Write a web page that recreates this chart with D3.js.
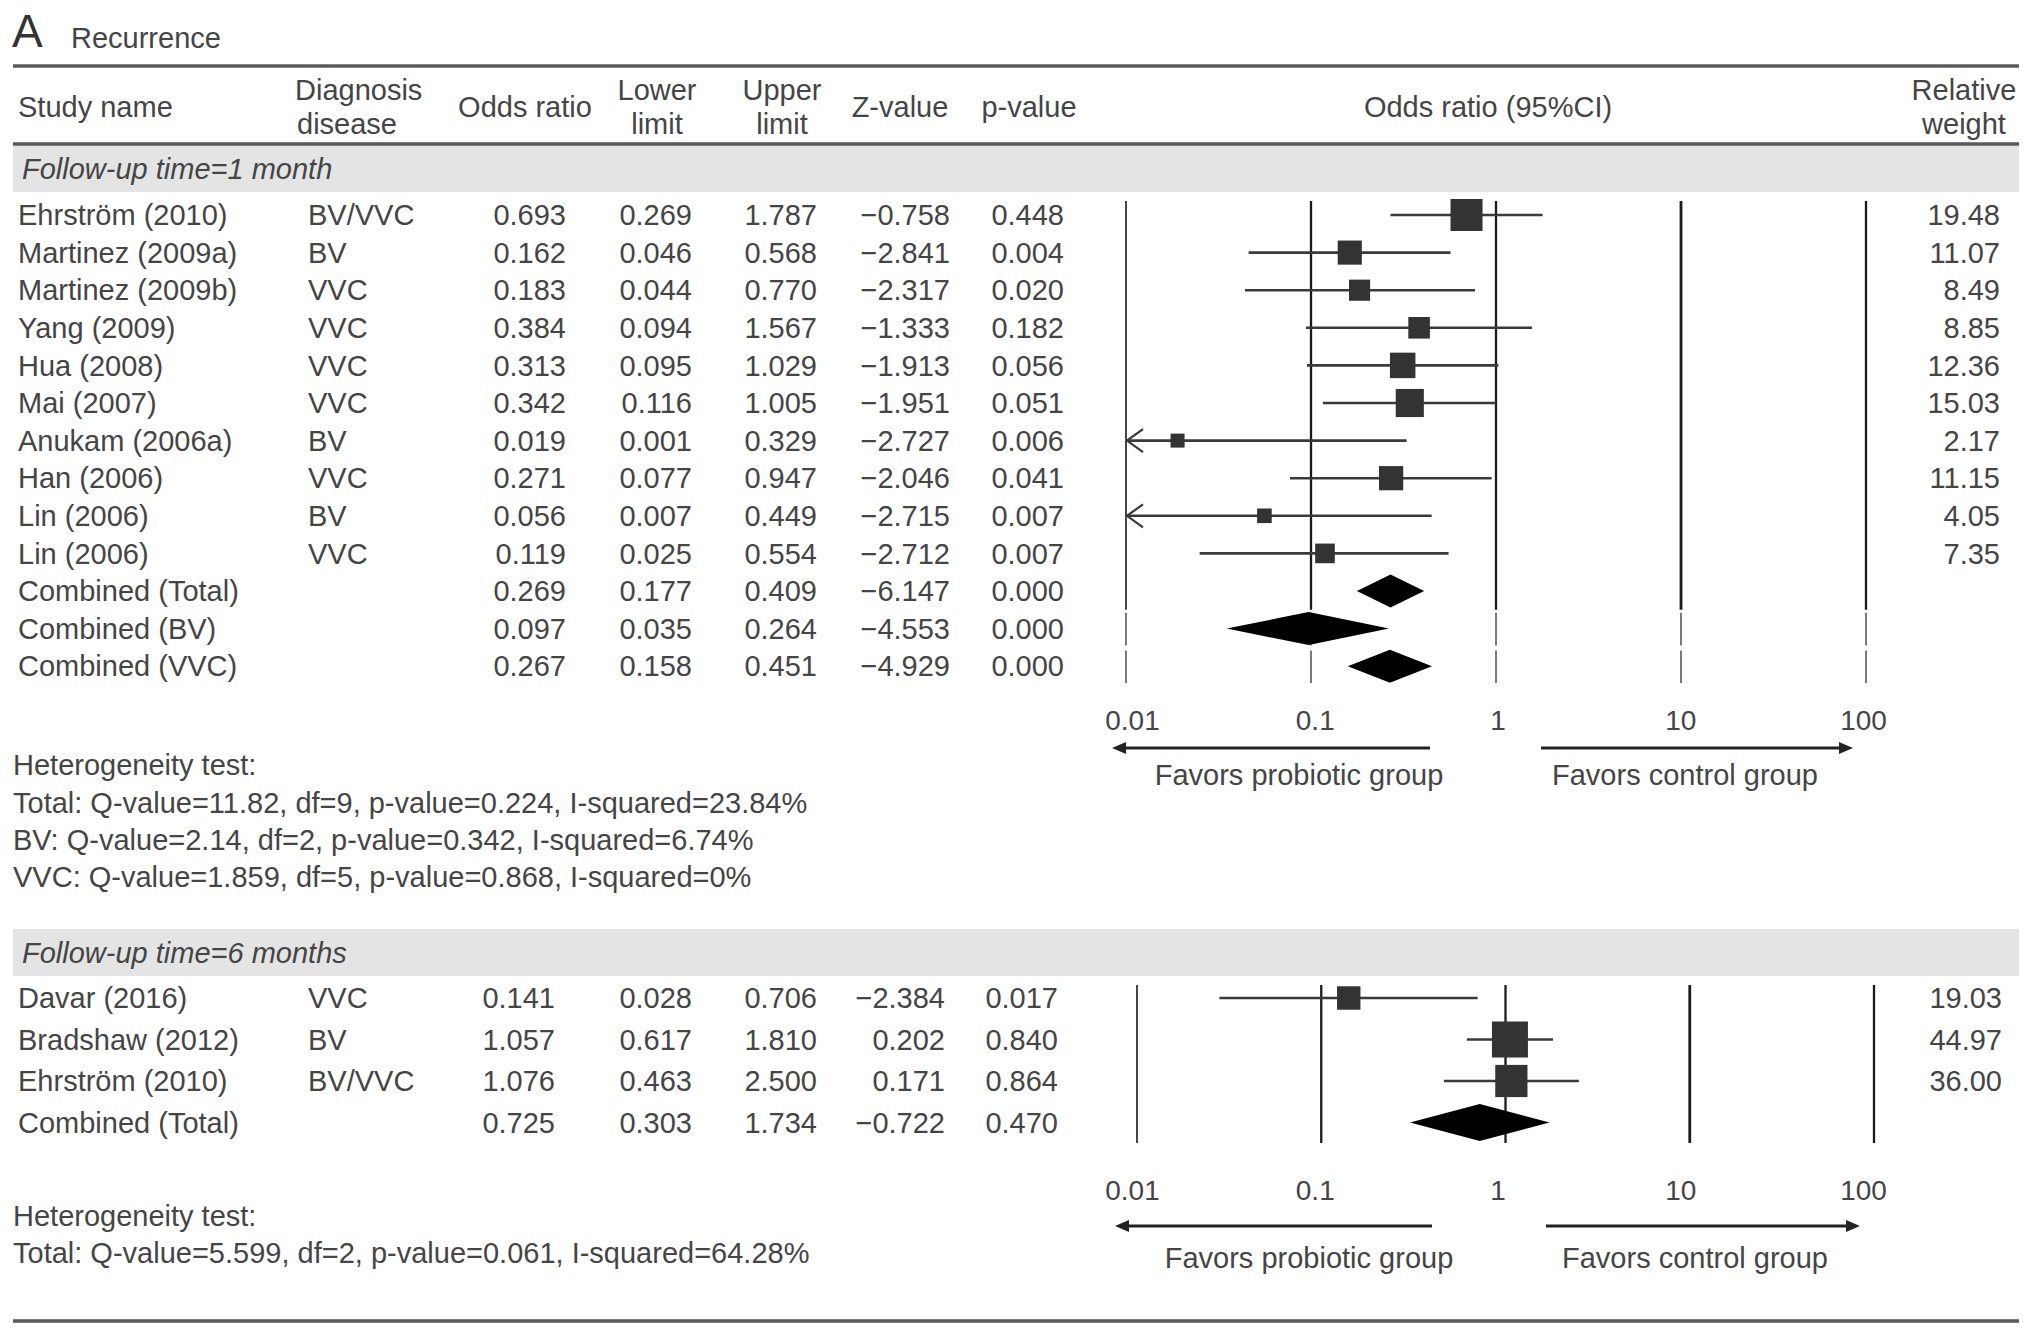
<!DOCTYPE html>
<html>
<head>
<meta charset="utf-8">
<script src="https://cdn.jsdelivr.net/npm/d3@7"></script>
<style>
  html, body { margin: 0; padding: 0; background: #fff; }
  svg text { font-family: "Liberation Sans", Arial, sans-serif; fill: #454545; }
</style>
</head>
<body>
<svg id="chart" width="2032" height="1334"></svg>
<script>
// forest plot, recurrence, two follow-up times

// ---- data: follow-up time = 1 month
const names1 = ["Ehrström (2010)", "Martinez (2009a)", "Martinez (2009b)", "Yang (2009)", "Hua (2008)",
  "Mai (2007)", "Anukam (2006a)", "Han (2006)", "Lin (2006)", "Lin (2006)",
  "Combined (Total)", "Combined (BV)", "Combined (VVC)"]
const diagnosis1 = ["BV/VVC", "BV", "VVC", "VVC", "VVC", "VVC", "BV", "VVC", "BV", "VVC", "", "", ""]
const oddsRatio1 = [0.693, 0.162, 0.183, 0.384, 0.313, 0.342, 0.019, 0.271, 0.056, 0.119, 0.269, 0.097, 0.267]
const lower1 = [0.269, 0.046, 0.044, 0.094, 0.095, 0.116, 0.001, 0.077, 0.007, 0.025, 0.177, 0.035, 0.158]
const upper1 = [1.787, 0.568, 0.770, 1.567, 1.029, 1.005, 0.329, 0.947, 0.449, 0.554, 0.409, 0.264, 0.451]
const zValue1 = [-0.758, -2.841, -2.317, -1.333, -1.913, -1.951, -2.727, -2.046, -2.715, -2.712, -6.147, -4.553, -4.929]
const pValue1 = [0.448, 0.004, 0.020, 0.182, 0.056, 0.051, 0.006, 0.041, 0.007, 0.007, 0.000, 0.000, 0.000]
const weight1 = [19.48, 11.07, 8.49, 8.85, 12.36, 15.03, 2.17, 11.15, 4.05, 7.35, null, null, null]
const hetero1 = ["Heterogeneity test:",
  "Total: Q-value=11.82, df=9, p-value=0.224, I-squared=23.84%",
  "BV: Q-value=2.14, df=2, p-value=0.342, I-squared=6.74%",
  "VVC: Q-value=1.859, df=5, p-value=0.868, I-squared=0%"]

// ---- data: follow-up time = 6 months
const names2 = ["Davar (2016)", "Bradshaw (2012)", "Ehrström (2010)", "Combined (Total)"]
const diagnosis2 = ["VVC", "BV", "BV/VVC", ""]
const oddsRatio2 = [0.141, 1.057, 1.076, 0.725]
const lower2 = [0.028, 0.617, 0.463, 0.303]
const upper2 = [0.706, 1.810, 2.500, 1.734]
const zValue2 = [-2.384, 0.202, 0.171, -0.722]
const pValue2 = [0.017, 0.840, 0.864, 0.470]
const weight2 = [19.03, 44.97, 36.00, null]
const hetero2 = ["Heterogeneity test:",
  "Total: Q-value=5.599, df=2, p-value=0.061, I-squared=64.28%"]

const tickValues = [0.01, 0.1, 1, 10, 100]
const tickLabels = ["0.01", "0.1", "1", "10", "100"]

const svg = d3.select('#chart')
const FS = 29

// title
svg.append('text').attr('x', 12).attr('y', 47).style('font-size', '46px').style('fill', '#333').text('A')
svg.append('text').attr('x', 71).attr('y', 48).style('font-size', FS + 'px').text('Recurrence')

// rules
function rule(y) {
  svg.append('line').attr('x1', 13).attr('x2', 2019).attr('y1', y).attr('y2', y)
    .attr('stroke', '#5a5a5a').attr('stroke-width', 3.5)
}
rule(66)
rule(144)
rule(1321)

// header
function txt(x, y, s, anchor, size, italic) {
  return svg.append('text').attr('x', x).attr('y', y).attr('dy', '0.35em')
    .attr('text-anchor', anchor || 'start')
    .style('font-size', (size || FS) + 'px')
    .style('font-style', italic ? 'italic' : 'normal')
    .text(s)
}
txt(18, 107, 'Study name')
txt(295, 90, 'Diagnosis')
txt(297, 124, 'disease')
txt(525, 107, 'Odds ratio', 'middle')
txt(657, 90, 'Lower', 'middle')
txt(657, 124, 'limit', 'middle')
txt(782, 90, 'Upper', 'middle')
txt(782, 124, 'limit', 'middle')
txt(900, 107, 'Z-value', 'middle')
txt(1029, 107, 'p-value', 'middle')
txt(1488, 107, 'Odds ratio (95%CI)', 'middle')
txt(1964, 90, 'Relative', 'middle')
txt(1964, 124, 'weight', 'middle')

const f3 = d3.format('.3f')
const f2 = d3.format('.2f')

// tick labels sit at the same places under both plots
const labelX = d3.scaleLog().domain([0.01, 100]).range([1132, 1863])

function drawSection(cfg) {
  const n = cfg.names.length
  const rowY = i => cfg.rowY0 + i * cfg.rowStep
  const x = d3.scaleLog().domain([0.01, 100]).range(cfg.xRange)
  const maxW = d3.max(cfg.weight)
  const size = d3.scaleSqrt().domain([0, maxW]).range([0, cfg.squareMax])

  // band
  svg.append('rect').attr('x', 13).attr('y', cfg.band[0]).attr('width', 2006)
    .attr('height', cfg.band[1] - cfg.band[0]).attr('fill', '#e4e4e4')
  txt(22, (cfg.band[0] + cfg.band[1]) / 2, cfg.label, 'start', FS, true)

  // table text
  const minus = s => s.replace('-', cfg.minus)
  cfg.names.forEach((nm, i) => {
    const y = rowY(i)
    txt(18, y, nm)
    txt(308, y, cfg.diagnosis[i])
    txt(cfg.cols.or, y, f3(cfg.oddsRatio[i]), 'end')
    txt(cfg.cols.lo, y, f3(cfg.lower[i]), 'end')
    txt(cfg.cols.up, y, f3(cfg.upper[i]), 'end')
    txt(cfg.cols.z, y, minus(f3(cfg.zValue[i])), 'end')
    txt(cfg.cols.p, y, f3(cfg.pValue[i]), 'end')
    if (cfg.weight[i] != null) txt(cfg.cols.w, y, f2(cfg.weight[i]), 'end')
  })

  // reference lines
  const firstSub = cfg.names.findIndex((d, i) => d.startsWith('Combined') && d !== 'Combined (Total)')
  const contEnd = firstSub < 0 ? cfg.lineBottom : rowY(firstSub) - cfg.rowStep / 2
  const g = svg.append('g')
  g.selectAll('.ref').data(tickValues).join('line')
    .attr('x1', d => x(d)).attr('x2', d => x(d))
    .attr('y1', cfg.lineTop).attr('y2', contEnd)
    .attr('stroke', '#1a1a1a')
    .attr('stroke-width', (d, i) => i === 0 ? 1.6 : (i === 3 ? 2.8 : 2.3))
  if (firstSub >= 0) {
    d3.range(firstSub, n).forEach(i => {
      g.selectAll(null).data(tickValues).join('line')
        .attr('x1', d => x(d)).attr('x2', d => x(d))
        .attr('y1', rowY(i) - cfg.rowStep / 2 + 3).attr('y2', rowY(i) + cfg.rowStep / 2 - 2)
        .attr('stroke', '#333').attr('stroke-width', 1.3)
    })
  }

  // study CI lines and squares
  const studyIdx = d3.range(n).filter(i => cfg.weight[i] != null)
  const lo = x(0.01)
  studyIdx.forEach(i => {
    const y = rowY(i)
    const x1 = Math.max(lo, x(cfg.lower[i]))
    const x2 = x(cfg.upper[i])
    g.append('line').attr('x1', x1).attr('x2', x2).attr('y1', y).attr('y2', y)
      .attr('stroke', '#3a3a3a').attr('stroke-width', 2.6)
    if (cfg.lower[i] < 0.01) {
      g.append('path').attr('d', `M${lo + 17},${y - 11.5}L${lo + 1},${y}L${lo + 17},${y + 11.5}`)
        .attr('fill', 'none').attr('stroke', '#3a3a3a').attr('stroke-width', 2.2)
    }
    const s = Math.max(14, size(cfg.weight[i]))
    g.append('rect').attr('x', x(cfg.oddsRatio[i]) - s / 2).attr('y', y - s / 2)
      .attr('width', s).attr('height', s).attr('fill', '#333')
  })

  // combined diamonds
  d3.range(n).filter(i => cfg.weight[i] == null).forEach(i => {
    const y = rowY(i), h = cfg.diamondH / 2
    g.append('path')
      .attr('d', `M${x(cfg.lower[i])},${y}L${x(cfg.oddsRatio[i])},${y - h}L${x(cfg.upper[i])},${y}L${x(cfg.oddsRatio[i])},${y + h}Z`)
      .attr('fill', '#000')
  })

  // axis labels
  const axis = d3.axisBottom(labelX).tickValues(tickValues)
    .tickFormat((d, i) => tickLabels[i]).tickSize(0).tickPadding(0)
  const ag = svg.append('g').attr('transform', `translate(0,${cfg.axisY - 0.36 * 28})`).call(axis)
  ag.select('.domain').remove()
  ag.selectAll('text').style('font-size', '28px').attr('fill', '#454545')
    .style('font-family', '"Liberation Sans", Arial, sans-serif')

  // favour arrows
  function arrow(xa, xb, y) {
    const dir = Math.sign(xb - xa)
    svg.append('line').attr('x1', xa).attr('x2', xb - dir * 10).attr('y1', y).attr('y2', y)
      .attr('stroke', '#222').attr('stroke-width', 3)
    svg.append('path').attr('d', `M${xb},${y}L${xb - dir * 14},${y - 6}L${xb - dir * 14},${y + 6}Z`)
      .attr('fill', '#222')
  }
  arrow(cfg.arrowL[0], cfg.arrowL[1], cfg.arrowY)
  arrow(cfg.arrowR[0], cfg.arrowR[1], cfg.arrowY)
  txt(cfg.favorsX[0], cfg.favorsY, 'Favors probiotic group', 'middle')
  txt(cfg.favorsX[1], cfg.favorsY, 'Favors control group', 'middle')

  // heterogeneity
  cfg.hetero.forEach((s, i) => txt(13, cfg.hetY0 + i * cfg.hetStep, s))
}

drawSection({
  names: names1, diagnosis: diagnosis1, oddsRatio: oddsRatio1, lower: lower1, upper: upper1,
  zValue: zValue1, pValue: pValue1, weight: weight1, hetero: hetero1,
  label: 'Follow-up time=1 month', band: [146, 192],
  rowY0: 215, rowStep: 37.6, xRange: [1126, 1866], lineTop: 201, lineBottom: 687,
  cols: { or: 566, lo: 692, up: 817, z: 950, p: 1064, w: 2000 },
  squareMax: 32, diamondH: 33, minus: '\u2212',
  axisY: 720, arrowY: 748, arrowL: [1430, 1112], arrowR: [1541, 1853],
  favorsY: 775, favorsX: [1299, 1685], hetY0: 765, hetStep: 37.4
})

drawSection({
  names: names2, diagnosis: diagnosis2, oddsRatio: oddsRatio2, lower: lower2, upper: upper2,
  zValue: zValue2, pValue: pValue2, weight: weight2, hetero: hetero2,
  label: 'Follow-up time=6 months', band: [929, 976],
  rowY0: 998, rowStep: 41.5, xRange: [1137, 1874], lineTop: 985, lineBottom: 1143,
  cols: { or: 555, lo: 692, up: 817, z: 945, p: 1058, w: 2002 },
  squareMax: 36, diamondH: 37, minus: '\u2013',
  axisY: 1190, arrowY: 1226, arrowL: [1432, 1115], arrowR: [1546, 1860],
  favorsY: 1258, favorsX: [1309, 1695], hetY0: 1216, hetStep: 37
})
</script>
</body>
</html>
